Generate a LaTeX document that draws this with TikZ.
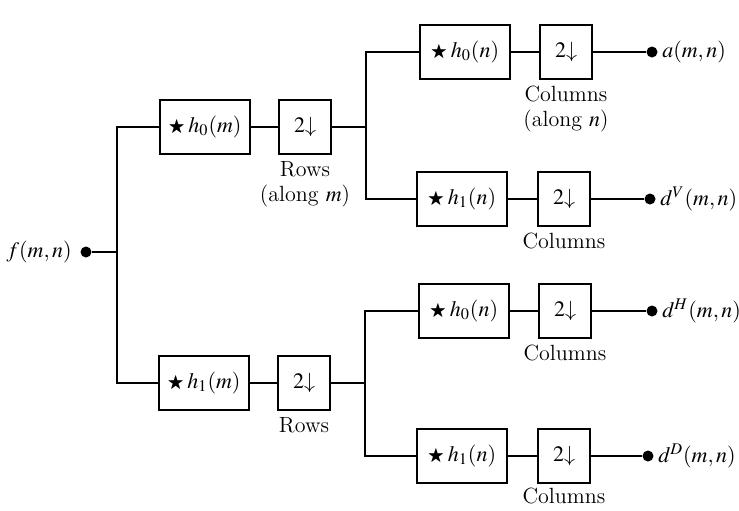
\documentclass[tikz,border=0pt]{standalone}
\usepackage{amssymb}
\usepackage{graphicx}
\usepackage{mathptmx}
\usetikzlibrary{positioning}
\tikzset{
  filtbox/.style={draw,line width=0.9pt,minimum width=45pt,minimum height=27pt,inner sep=0pt},
  downbox/.style={draw,line width=0.9pt,minimum width=26pt,minimum height=27pt,inner sep=0pt},
  tap/.style={circle,fill,inner sep=0pt,minimum size=5.5pt},
  wire/.style={line width=0.8pt},
  note/.style={align=center,inner sep=1pt}
}
\newcommand{\DownTwo}{$2{\downarrow}$}
\newcommand{\ConvBy}[2]{\raisebox{0.3pt}{\scalebox{0.78}{$\bigstar$}}\,$h_{#1}(#2)$}

\begin{document}
\begin{tikzpicture}[x=0.5pt,y=-0.5pt,font=\fontsize{11}{12.5}\selectfont]
  \useasboundingbox (0,0) rectangle (739,510);
  % input
  \node[tap] (fin) at (86,252) {};
  \node[left=4pt of fin,inner sep=0pt] (finlab) {$f(m,n)$};
  % first stage (rows)
  \node[filtbox] (hm0) at (205,127) {\ConvBy{0}{m}};
  \node[downbox] (dm0) at (305,127) {\DownTwo};
  \node[filtbox] (hm1) at (204,383) {\ConvBy{1}{m}};
  \node[downbox] (dm1) at (304,383) {\DownTwo};
  \node[note,below=2pt of dm0] (rowsa) {Rows\\(along $m$)};
  \node[note,below=2pt of dm1] (rowsb) {Rows};
  % second stage (columns)
  \node[filtbox] (hn00) at (465,52) {\ConvBy{0}{n}};
  \node[downbox] (dn00) at (566,52) {\DownTwo};
  \node[filtbox] (hn01) at (462,199) {\ConvBy{1}{n}};
  \node[downbox] (dn01) at (564,199) {\DownTwo};
  \node[filtbox] (hn10) at (464,311) {\ConvBy{0}{n}};
  \node[downbox] (dn10) at (565,311) {\DownTwo};
  \node[filtbox] (hn11) at (462,456) {\ConvBy{1}{n}};
  \node[downbox] (dn11) at (564,456) {\DownTwo};
  \node[note,below=2pt of dn00] (colsa) {Columns\\(along $n$)};
  \node[note,below=2pt of dn01] (colsb) {Columns};
  \node[note,below=2pt of dn10] (colsc) {Columns};
  \node[note,below=1pt of dn11] (colsd) {Columns};
  % outputs
  \node[tap] (oa) at (652,52) {};
  \node[tap] (ov) at (650,199) {};
  \node[tap] (oh) at (652,311) {};
  \node[tap] (od) at (648,456) {};
  \node[right=2pt of oa,inner sep=0pt] {$a(m,n)$};
  \node[right=2pt of ov,inner sep=0pt] {$d^V(m,n)$};
  \node[right=2pt of oh,inner sep=0pt] {$d^H(m,n)$};
  \node[right=2pt of od,inner sep=0pt] {$d^D(m,n)$};
  % junctions
  \coordinate (t1) at (117,252);
  \coordinate (t2) at (366,127);
  \coordinate (t3) at (365,383);
  % wires
  \draw[wire] (fin) -- (t1);
  \draw[wire] (hm0.west) -| (t1) |- (hm1.west);
  \draw[wire] (hm0) -- (dm0);
  \draw[wire] (hm1) -- (dm1);
  \draw[wire] (dm0) -- (t2);
  \draw[wire] (dm1) -- (t3);
  \draw[wire] (hn00.west) -| (t2) |- (hn01.west);
  \draw[wire] (hn10.west) -| (t3) |- (hn11.west);
  \draw[wire] (hn00) -- (dn00);
  \draw[wire] (hn01) -- (dn01);
  \draw[wire] (hn10) -- (dn10);
  \draw[wire] (hn11) -- (dn11);
  \draw[wire] (dn00) -- (oa);
  \draw[wire] (dn01) -- (ov);
  \draw[wire] (dn10) -- (oh);
  \draw[wire] (dn11) -- (od);
\end{tikzpicture}
\end{document}
